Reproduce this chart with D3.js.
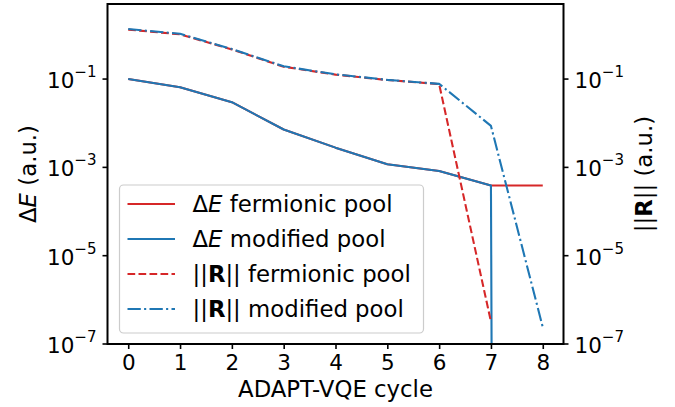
<!DOCTYPE html>
<html>
<head>
<meta charset="utf-8">
<script src="https://cdn.jsdelivr.net/npm/d3@7"></script>
<style>
  body { margin: 0; background: #fff; }
  svg text { font-family: "DejaVu Sans", sans-serif; fill: #000; }
</style>
</head>
<body>
<svg id="chart" width="675" height="407"></svg>
<script>
const cycles = [0, 1, 2, 3, 4, 5, 6, 7, 8];
const dEFerm = [0.1, 0.065, 0.030, 0.0072, 0.0028, 0.00118, 0.00083, 0.00039, 0.00039];
const dEMod = [0.1, 0.065, 0.030, 0.0072, 0.0028, 0.00118, 0.00083, 0.00039, 0];
const rFerm = [1.32, 1.03, 0.47, 0.19, 0.126, 0.095, 0.077, 3.2e-7];
const rMod = [1.36, 1.06, 0.48, 0.195, 0.128, 0.096, 0.078, 0.0087, 2.4e-7];
const yTicks = [-1, -3, -5, -7]; // exponents

const red = "#d62728", blue = "#1f77b4";
const fs = 21.5, lfs = 22.8, lw = 2.1;

const svg = d3.select("#chart");
const pl = 107.5, pr = 563.5, pt = 4, pb = 344;

const x = d3.scaleLinear().domain([-0.4, 8.4]).range([pl, pr]);
const y = d3.scaleLog().domain([1e-7, Math.pow(10, 0.70)]).range([pb, pt]);

svg.append("clipPath").attr("id", "plot")
  .append("rect").attr("x", pl).attr("y", pt)
  .attr("width", pr - pl).attr("height", pb - pt);

const plot = svg.append("g").attr("clip-path", "url(#plot)");

// zero values are clipped to a tiny positive number, like a log axis does
const line = d3.line()
  .x((d, i) => x(cycles[i]))
  .y(d => y(d > 0 ? d : 1e-300));

function addLine(vals, color, dash) {
  plot.append("path")
    .datum(vals)
    .attr("d", line)
    .attr("fill", "none")
    .attr("stroke", color)
    .attr("stroke-width", lw)
    .attr("stroke-dasharray", dash)
    .attr("stroke-linejoin", "round");
}

addLine(dEFerm, red, null);
addLine(dEMod, blue, null);
addLine(rFerm, red, "7.7,3.3");
addLine(rMod, blue, "13.3,3.3,2.1,3.3");

// x axis
const xAxis = svg.append("g")
  .attr("transform", `translate(0,${pb})`)
  .call(d3.axisBottom(x).tickValues(cycles).tickSize(5).tickPadding(5).tickFormat(d3.format("d")));
xAxis.select(".domain").remove();
xAxis.selectAll("line").attr("stroke", "#000").attr("stroke-width", 1.6);
xAxis.selectAll("text").style("font-size", fs + "px").attr("dy", "0.71em").attr("y", 11);

// y ticks, both sides
function yAxis(side) {
  const g = svg.append("g");
  const xs = side === "left" ? pl : pr;
  const dir = side === "left" ? -1 : 1;
  yTicks.forEach(e => {
    const yy = y(Math.pow(10, e));
    g.append("line").attr("x1", xs).attr("x2", xs + dir * 5)
      .attr("y1", yy).attr("y2", yy)
      .attr("stroke", "#000").attr("stroke-width", 1.6);
    const t = g.append("text")
      .attr("x", xs + dir * 11)
      .attr("y", yy + 9)
      .attr("text-anchor", side === "left" ? "end" : "start")
      .style("font-size", fs + "px");
    t.append("tspan").text("10");
    t.append("tspan").attr("dy", -11).style("font-size", (fs * 0.7) + "px").text("\u2212" + Math.abs(e));
  });
}
yAxis("left");
yAxis("right");

// frame
svg.append("rect")
  .attr("x", pl).attr("y", pt)
  .attr("width", pr - pl).attr("height", pb - pt)
  .attr("fill", "none").attr("stroke", "#000").attr("stroke-width", 2);

// axis labels
svg.append("text")
  .attr("x", (pl + pr) / 2).attr("y", 397)
  .attr("text-anchor", "middle")
  .style("font-size", lfs + "px")
  .text("ADAPT-VQE cycle");

const yl = svg.append("text")
  .attr("transform", `translate(36,${(pt + pb) / 2}) rotate(-90)`)
  .attr("text-anchor", "middle")
  .style("font-size", lfs + "px");
yl.append("tspan").text("\u0394");
yl.append("tspan").style("font-style", "italic").text("E");
yl.append("tspan").text(" (a.u.)");

const yr = svg.append("text")
  .attr("transform", `translate(652,${(pt + pb) / 2}) rotate(-90)`)
  .attr("text-anchor", "middle")
  .style("font-size", lfs + "px");
yr.append("tspan").text("||");
yr.append("tspan").style("font-weight", "bold").text("R");
yr.append("tspan").text("|| (a.u.)");

// legend
const entries = [
  {label: "fermionic pool", kind: "E", color: red, dash: null},
  {label: "modified pool", kind: "E", color: blue, dash: null},
  {label: "fermionic pool", kind: "R", color: red, dash: "7.7,3.3"},
  {label: "modified pool", kind: "R", color: blue, dash: "13.3,3.3,2.1,3.3"}
];
const lg = svg.append("g");
lg.append("rect")
  .attr("x", 119.5).attr("y", 185)
  .attr("width", 304).attr("height", 148)
  .attr("rx", 4)
  .attr("fill", "#fff").attr("fill-opacity", 0.8)
  .attr("stroke", "#cccccc").attr("stroke-width", 1.2);

entries.forEach((d, i) => {
  const cy = 204 + i * 35;
  lg.append("line")
    .attr("x1", 127.5).attr("x2", 175)
    .attr("y1", cy).attr("y2", cy)
    .attr("stroke", d.color).attr("stroke-width", lw)
    .attr("stroke-dasharray", d.dash);
  const t = lg.append("text")
    .attr("x", 192.5).attr("y", cy + 8)
    .style("font-size", lfs + "px");
  if (d.kind === "E") {
    t.append("tspan").text("\u0394");
    t.append("tspan").style("font-style", "italic").text("E");
  } else {
    t.append("tspan").text("||");
    t.append("tspan").style("font-weight", "bold").text("R");
    t.append("tspan").text("||");
  }
  t.append("tspan").text(" " + d.label);
});
</script>
</body>
</html>
